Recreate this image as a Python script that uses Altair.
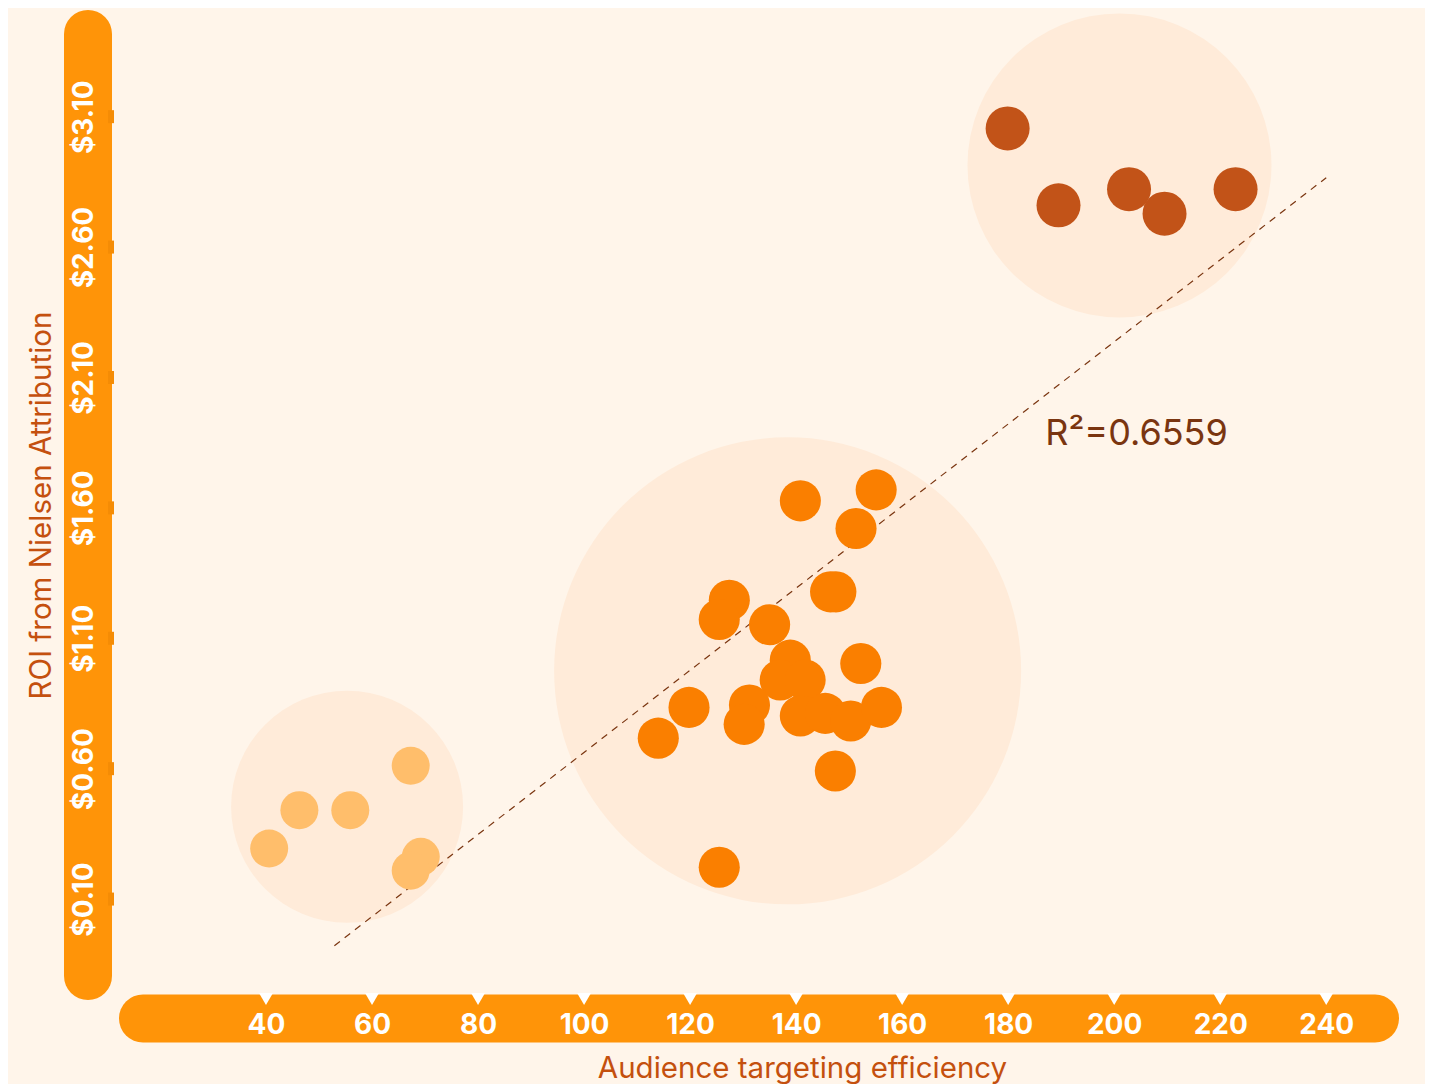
import altair as alt
import pandas as pd

# ---- data ----
low_x = [40.6, 46.3, 55.9, 67.3, 69.2, 67.3]
low_y = [0.294, 0.441, 0.441, 0.611, 0.262, 0.209]
mid_x = [140.8, 155.1, 151.3, 146.5, 147.5, 127.4, 125.5, 135.0, 138.9, 137.0, 141.7,
         152.2, 119.8, 114.0, 131.2, 130.2, 140.8, 145.5, 150.3, 156.1, 147.4, 125.5]
mid_y = [1.627, 1.669, 1.521, 1.278, 1.278, 1.246, 1.172, 1.152, 1.016, 0.940, 0.940,
         1.003, 0.835, 0.717, 0.844, 0.770, 0.802, 0.812, 0.783, 0.835, 0.591, 0.222]
high_x = [179.9, 189.5, 202.8, 209.5, 222.9]
high_y = [3.055, 2.760, 2.822, 2.728, 2.822]

halo_x = [55.3, 138.4, 201.0]
halo_y = [0.454, 0.975, 2.913]
halo_diam = [232, 467, 304]

trend_x = [52.9, 240.0]
trend_y = [-0.079, 2.866]
r2_text = "R²=0.6559"
r2_pos = (187.0, 1.841)

x_ticks = [40, 60, 80, 100, 120, 140, 160, 180, 200, 220, 240]
y_ticks = [0.10, 0.60, 1.10, 1.60, 2.10, 2.60, 3.10]
x_domain = [16.8, 249.2]
y_domain = [-0.195, 3.417]

# ---- styles ----
BG = "#FFF5EA"
HALO = "#FFEBD9"
BAR = "#FF9408"
TITLE = "#C4500E"
R2C = "#7A3510"
clusters = ["Low", "Mid", "High"]
c_colors = ["#FFBE6B", "#FA7F00", "#C25318"]
c_sizes = [1444, 1936, 2601]
FONT = "Inter"

W, H = 1232, 942
X_OFF, Y_OFF = 42.5, 55

pts = pd.DataFrame(
    [{"x": a, "y": b, "cluster": "Low"} for a, b in zip(low_x, low_y)]
    + [{"x": a, "y": b, "cluster": "Mid"} for a, b in zip(mid_x, mid_y)]
    + [{"x": a, "y": b, "cluster": "High"} for a, b in zip(high_x, high_y)]
)
halos = pd.DataFrame({"x": halo_x, "y": halo_y, "s": [d * d for d in halo_diam]})
trend = pd.DataFrame({"x": trend_x, "y": trend_y})
r2 = pd.DataFrame({"x": [r2_pos[0]], "y": [r2_pos[1]], "t": [r2_text]})
xt = pd.DataFrame({"x": x_ticks})
yt = pd.DataFrame({"y": y_ticks})
one = pd.DataFrame({"k": [0]})

xscale = alt.Scale(domain=x_domain, nice=False, zero=False)
yscale = alt.Scale(domain=y_domain, nice=False, zero=False)

xaxis = alt.Axis(
    values=x_ticks, title="Audience targeting efficiency", grid=False,
    domain=False, offset=X_OFF, zindex=2,
    ticks=False, tickSize=0,
    labelColor="white", labelFont=FONT, labelFontSize=28, labelFontWeight="bold",
    labelBaseline="middle", labelPadding=6.5, labelFlush=False, labelOverlap=False,
    titleFont=FONT, titleFontSize=29.5, titleFontWeight="normal", titleColor=TITLE,
    titleX=659, titleY=59, titleBaseline="alphabetic", titleAlign="center",
)
yaxis = alt.Axis(
    values=y_ticks, format="$.2f", title="ROI from Nielsen Attribution", grid=False,
    domain=False, offset=Y_OFF, zindex=2,
    ticks=False, tickSize=0,
    labelColor="white", labelFont=FONT, labelFontSize=28, labelFontWeight="bold",
    labelAngle=270, labelAlign="center", labelBaseline="middle", labelPadding=4,
    labelFlush=False, labelOverlap=False,
    titleFont=FONT, titleFontSize=29.5, titleFontWeight="normal", titleColor=TITLE,
    titleAngle=270, titleX=-38, titleY=H / 2, titleBaseline="alphabetic", titleAlign="center",
)

X = alt.X("x:Q", scale=xscale, axis=xaxis)
Y = alt.Y("y:Q", scale=yscale, axis=yaxis)

xbar = alt.Chart(one).mark_rule(color=BAR, strokeWidth=48, strokeCap="round").encode(
    x=alt.value(0), x2=alt.value(W), y=alt.value(H + X_OFF)
)
ybar = alt.Chart(one).mark_rule(color=BAR, strokeWidth=48, strokeCap="round").encode(
    x=alt.value(-Y_OFF), y=alt.value(0), y2=alt.value(H)
)
halo_layer = alt.Chart(halos).mark_circle(color=HALO, opacity=1).encode(
    x=X, y=Y, size=alt.Size("s:Q", scale=None, legend=None)
)
trend_layer = alt.Chart(trend).mark_line(
    color=R2C, strokeWidth=1.2, strokeDash=[7, 6]
).encode(x=X, y=Y)
pt_layer = alt.Chart(pts).mark_circle(opacity=1).encode(
    x=X, y=Y,
    color=alt.Color("cluster:N", scale=alt.Scale(domain=clusters, range=c_colors), legend=None),
    size=alt.Size("cluster:O", scale=alt.Scale(domain=clusters, range=c_sizes), legend=None),
)
r2_layer = alt.Chart(r2).mark_text(
    font=FONT, fontSize=36, color=R2C, align="left", baseline="alphabetic"
).encode(x=X, y=Y, text="t:N")
tri_layer = alt.Chart(xt).mark_point(
    shape="M-1,-0.857L1,-0.857L0,0.857Z", filled=True, color="white", opacity=1, size=196
).encode(x=X, y=alt.value(H + 23))
nub_layer = alt.Chart(yt).mark_point(
    shape="M-0.46,-1L0.46,-1L0.46,1L-0.46,1Z", filled=True, color="#F58C05", opacity=1, size=169
).encode(y=Y, x=alt.value(-32))

chart = alt.layer(
    xbar, ybar, halo_layer, trend_layer, pt_layer, r2_layer, nub_layer, tri_layer
).properties(
    width=W, height=H, background=BG,
    autosize=alt.AutoSizeParams(type="none"),
    padding={"left": 135, "top": 26, "right": 50, "bottom": 108},
).configure_view(stroke=None)

chart.save("out.html", embed_options={"renderer": "svg", "actions": False})
